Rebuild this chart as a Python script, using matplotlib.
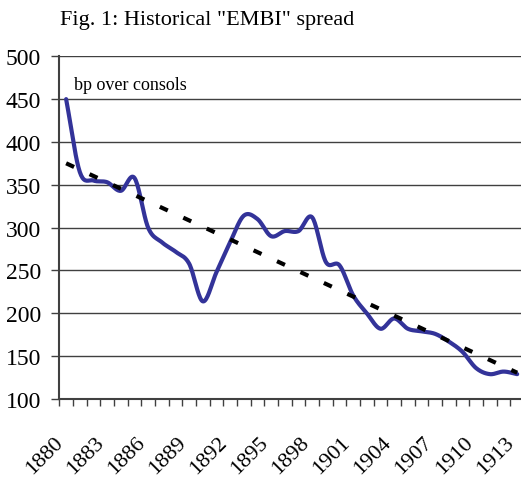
import matplotlib
matplotlib.use("Agg")
import matplotlib.pyplot as plt
from matplotlib.transforms import ScaledTranslation
import numpy as np

YEARS = list(range(1880, 1914))
SPREAD = [450, 365, 355, 353, 343, 358, 300, 283, 272, 258,
          214, 248, 283, 314, 310, 290, 296, 296, 312, 260,
          256, 221, 200, 182, 194, 182, 179, 176, 167, 155,
          136, 129, 132, 129]
LABEL_YEARS = list(range(1880, 1914, 3))
Y_TICKS = list(range(100, 501, 50))


def catmull_rom(x, y, n=20):
    # smooth line through the points, like Excel's "smoothed line"
    x = np.asarray(x, float)
    y = np.asarray(y, float)
    px = np.concatenate([[2 * x[0] - x[1]], x, [2 * x[-1] - x[-2]]])
    py = np.concatenate([[2 * y[0] - y[1]], y, [2 * y[-1] - y[-2]]])
    xs, ys = [], []
    t = np.linspace(0, 1, n, endpoint=False)
    for i in range(1, len(px) - 2):
        for arr, out in ((px, xs), (py, ys)):
            p0, p1, p2, p3 = arr[i - 1], arr[i], arr[i + 1], arr[i + 2]
            out.extend(0.5 * (2 * p1 + (-p0 + p2) * t
                              + (2 * p0 - 5 * p1 + 4 * p2 - p3) * t ** 2
                              + (-p0 + 3 * p1 - 3 * p2 + p3) * t ** 3))
    xs.append(x[-1])
    ys.append(y[-1])
    return np.array(xs), np.array(ys)


plt.rcParams["font.family"] = ["Liberation Serif", "DejaVu Serif"]

fig = plt.figure(figsize=(5.21, 4.81), dpi=100)
ax = fig.add_axes([0.1138, 0.1684, 0.892, 0.7125])

idx = np.arange(len(YEARS))
sx, sy = catmull_rom(idx, SPREAD)
ax.plot(sx, sy, color="#333399", linewidth=3.0, solid_capstyle="round", zorder=3)

# linear trend of the series
coef = np.polyfit(idx, SPREAD, 1)
trend = np.polyval(coef, idx[[0, -1]])
ax.plot(idx[[0, -1]], trend, color="black", linewidth=3.0,
        linestyle=(0, (2.1, 4.1)), zorder=4)

ax.set_xlim(-0.5, len(YEARS) - 0.5)
ax.set_ylim(100, 500)
ax.set_yticks(Y_TICKS)
ax.set_yticklabels([str(v) for v in Y_TICKS], fontsize=17)
ax.yaxis.grid(True, color="#404040", linewidth=1.0)
ax.set_axisbelow(True)

ax.set_xticks([YEARS.index(y) for y in LABEL_YEARS])
ax.set_xticklabels([str(y) for y in LABEL_YEARS], fontsize=16,
                   rotation=45, ha="right", va="center", rotation_mode="anchor")
ax.tick_params(axis="x", length=0, pad=29)
shift = ScaledTranslation(-0.06, 0, fig.dpi_scale_trans)
for lbl in ax.get_xticklabels():
    lbl.set_transform(lbl.get_transform() + shift)
ax.set_xticks(np.arange(-0.5, len(YEARS)), minor=True)
ax.tick_params(axis="x", which="minor", length=5, width=1.0, color="#404040")
ax.tick_params(axis="y", length=6, width=1.0, color="#404040", pad=7)

for side in ("top", "right"):
    ax.spines[side].set_visible(False)
for side in ("left", "bottom"):
    ax.spines[side].set_color("#404040")
    ax.spines[side].set_linewidth(1.5)

ax.text(0.6, 467, "bp over consols", fontsize=13, va="center", ha="left")
fig.text(0.115, 0.958, 'Fig. 1: Historical "EMBI" spread', fontsize=16,
         ha="left", va="center")

fig.savefig("out.png", dpi=100)
